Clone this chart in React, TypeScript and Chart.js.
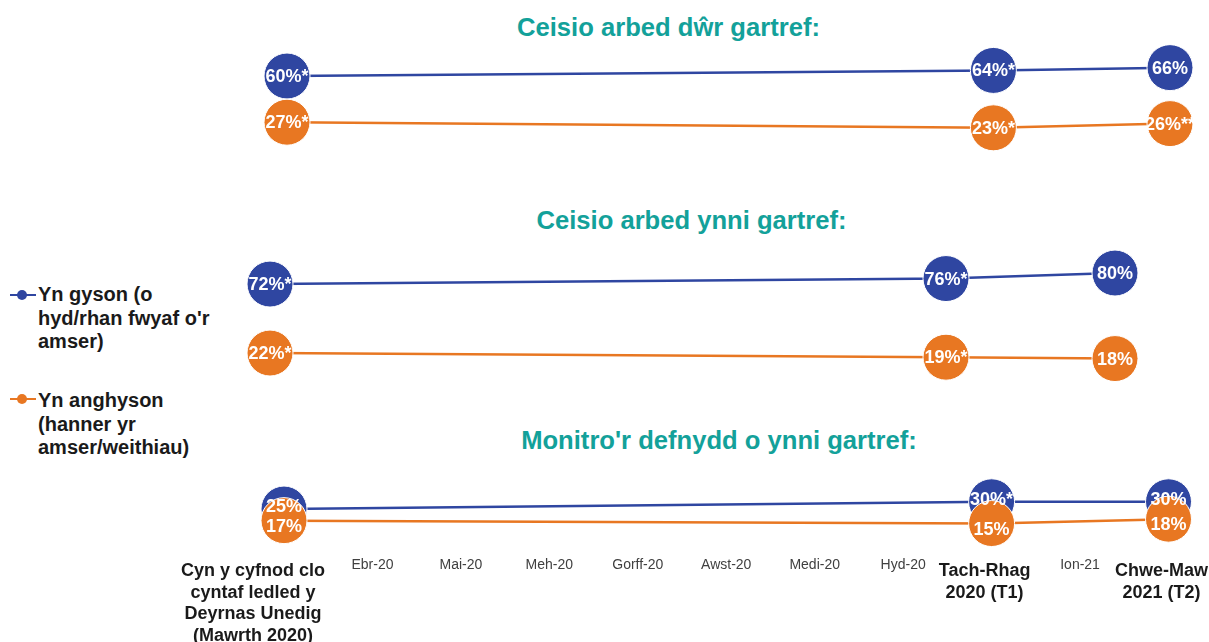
import React, { useEffect, useRef } from "react";
import { Chart, registerables } from "chart.js";

Chart.register(...registerables);

const FONT = "'Liberation Sans', Arial, Helvetica, sans-serif";
const BLUE = "#2F46A1";
const ORANGE = "#E87722";
const TEAL = "#13A19A";

// ---------- DATA ----------
const categories: (string | string[])[] = [
  ["Cyn y cyfnod clo", "cyntaf ledled y", "Deyrnas Unedig", "(Mawrth 2020)"],
  "Ebr-20",
  "Mai-20",
  "Meh-20",
  "Gorff-20",
  "Awst-20",
  "Medi-20",
  "Hyd-20",
  ["Tach-Rhag", "2020 (T1)"],
  "Ion-21",
  ["Chwe-Maw", "2021 (T2)"],
];

const seriesConsistent = ["Yn gyson (o", "hyd/rhan fwyaf o'r", "amser)"];
const seriesInconsistent = ["Yn anghyson", "(hanner yr", "amser/weithiau)"];

const waterTitle = "Ceisio arbed dŵr gartref:";
const waterConsistent = [60, null, null, null, null, null, null, null, 64, null, 66];
const waterConsistentLabels = ["60%*", null, null, null, null, null, null, null, "64%*", null, "66%"];
const waterInconsistent = [27, null, null, null, null, null, null, null, 23, null, 26];
const waterInconsistentLabels = ["27%*", null, null, null, null, null, null, null, "23%*", null, "26%**"];

const energyTitle = "Ceisio arbed ynni gartref:";
const energyConsistent = [72, null, null, null, null, null, null, null, 76, null, 80];
const energyConsistentLabels = ["72%*", null, null, null, null, null, null, null, "76%*", null, "80%"];
const energyInconsistent = [22, null, null, null, null, null, null, null, 19, null, 18];
const energyInconsistentLabels = ["22%*", null, null, null, null, null, null, null, "19%*", null, "18%"];

const monitorTitle = "Monitro'r defnydd o ynni gartref:";
const monitorConsistent = [25, null, null, null, null, null, null, null, 30, null, 30];
const monitorConsistentLabels = ["25%", null, null, null, null, null, null, null, "30%*", null, "30%"];
const monitorInconsistent = [17, null, null, null, null, null, null, null, 15, null, 18];
const monitorInconsistentLabels = ["17%", null, null, null, null, null, null, null, "15%", null, "18%"];

// ---------- PLUGINS ----------
const pointLabelPlugin = {
  id: "pointLabels",
  afterDatasetsDraw(chart: any) {
    const ctx = chart.ctx;
    ctx.save();
    ctx.font = `bold 18px ${FONT}`;
    ctx.fillStyle = "#ffffff";
    ctx.textAlign = "center";
    ctx.textBaseline = "middle";
    chart.data.datasets.forEach((ds: any, i: number) => {
      const meta = chart.getDatasetMeta(i);
      meta.data.forEach((pt: any, j: number) => {
        const label = ds.pointLabels?.[j];
        if (!label || ds.data[j] == null) return;
        ctx.fillText(label, pt.x, pt.y + 1 + (ds.labelDy || 0));
      });
    });
    ctx.restore();
  },
};

const makeAxisPlugin = (canvasTop: number) => ({
  id: "axisLabels",
  afterDraw(chart: any) {
    const ctx = chart.ctx;
    const scale = chart.scales.x;
    ctx.save();
    ctx.textAlign = "center";
    (chart.data.labels as (string | string[])[]).forEach((label, i) => {
      const x = scale.getPixelForValue(i);
      if (Array.isArray(label)) {
        const dx = i === 0 ? -31 : -7;
        ctx.font = `bold 18px ${FONT}`;
        ctx.fillStyle = "#1a1a1a";
        ctx.textBaseline = "alphabetic";
        label.forEach((line, k) => {
          ctx.fillText(line, x + dx, 576 - canvasTop + k * 21.5);
        });
      } else {
        ctx.font = `14px ${FONT}`;
        ctx.fillStyle = "#404040";
        ctx.textBaseline = "alphabetic";
        ctx.fillText(label, x, 569 - canvasTop);
      }
    });
    ctx.restore();
  },
});

// ---------- PANEL ----------
type PanelCfg = {
  top: number;
  height: number;
  padding: { left: number; right: number; top: number; bottom: number };
  yMax: number;
  consistent: (number | null)[];
  consistentLabels: (string | null)[];
  inconsistent: (number | null)[];
  inconsistentLabels: (string | null)[];
  consistentDy?: number;
  inconsistentDy?: number;
  axis?: boolean;
};

function Panel({ cfg }: { cfg: PanelCfg }) {
  const ref = useRef<HTMLCanvasElement>(null);
  useEffect(() => {
    const common = {
      borderWidth: 2.5,
      pointRadius: 23,
      pointHoverRadius: 23,
      pointBorderColor: "#ffffff",
      pointBorderWidth: 1,
      spanGaps: true,
      clip: false,
      tension: 0,
    };
    const plugins: any[] = [pointLabelPlugin];
    if (cfg.axis) plugins.push(makeAxisPlugin(cfg.top));
    const chart = new Chart(ref.current!, {
      type: "line",
      data: {
        labels: categories as any,
        datasets: [
          {
            ...common,
            label: seriesConsistent.join(" "),
            data: cfg.consistent,
            borderColor: BLUE,
            backgroundColor: BLUE,
            pointBackgroundColor: BLUE,
            order: 1,
            pointLabels: cfg.consistentLabels,
            labelDy: cfg.consistentDy || 0,
          } as any,
          {
            ...common,
            label: seriesInconsistent.join(" "),
            data: cfg.inconsistent,
            borderColor: ORANGE,
            backgroundColor: ORANGE,
            pointBackgroundColor: ORANGE,
            order: 0,
            pointLabels: cfg.inconsistentLabels,
            labelDy: cfg.inconsistentDy || 0,
          } as any,
        ],
      },
      options: {
        animation: false,
        responsive: false,
        maintainAspectRatio: false,
        events: [],
        layout: { padding: cfg.padding, autoPadding: false },
        plugins: {
          legend: { display: false },
          title: { display: false },
          tooltip: { enabled: false },
        },
        scales: {
          x: { display: false, offset: false },
          y: { display: false, min: 0, max: cfg.yMax },
        },
      } as any,
      plugins,
    });
    return () => chart.destroy();
  }, []);
  return (
    <canvas
      ref={ref}
      width={1209}
      height={cfg.height}
      style={{ position: "absolute", left: 0, top: cfg.top, width: 1209, height: cfg.height }}
    />
  );
}

const titleStyle = (centerX: number, top: number): React.CSSProperties => ({
  position: "absolute",
  left: centerX,
  top,
  transform: "translateX(-50%)",
  whiteSpace: "nowrap",
  font: `bold 25.6px ${FONT}`,
  lineHeight: "30px",
  color: TEAL,
});

function LegendItem({ top, markerY, color, lines }: { top: number; markerY: number; color: string; lines: string[] }) {
  return (
    <>
      <div style={{ position: "absolute", left: 10, top: markerY - 1, width: 26, height: 2, background: color }} />
      <div
        style={{
          position: "absolute",
          left: 17,
          top: markerY - 5,
          width: 10,
          height: 10,
          borderRadius: "50%",
          background: color,
        }}
      />
      <div
        style={{
          position: "absolute",
          left: 38,
          top,
          font: `bold 20px ${FONT}`,
          lineHeight: "23.5px",
          color: "#1a1a1a",
          whiteSpace: "nowrap",
        }}
      >
        {lines.map((l, i) => (
          <div key={i}>{l}</div>
        ))}
      </div>
    </>
  );
}

export default function App() {
  const panels: PanelCfg[] = [
    {
      top: 40,
      height: 135,
      padding: { left: 287, right: 39, top: 10, bottom: 15 },
      yMax: 78.6,
      consistent: waterConsistent,
      consistentLabels: waterConsistentLabels,
      inconsistent: waterInconsistent,
      inconsistentLabels: waterInconsistentLabels,
    },
    {
      top: 240,
      height: 160,
      padding: { left: 270, right: 94, top: 10, bottom: 16.6 },
      yMax: 96.7,
      consistent: energyConsistent,
      consistentLabels: energyConsistentLabels,
      inconsistent: energyInconsistent,
      inconsistentLabels: energyInconsistentLabels,
    },
    {
      top: 460,
      height: 182,
      padding: { left: 284, right: 40.5, top: 10, bottom: 96.7 },
      yMax: 51.9,
      consistent: monitorConsistent,
      consistentLabels: monitorConsistentLabels,
      inconsistent: monitorInconsistent,
      inconsistentLabels: monitorInconsistentLabels,
      consistentDy: -3,
      inconsistentDy: 5,
      axis: true,
    },
  ];
  return (
    <div
      style={{
        position: "absolute",
        left: 0,
        top: 0,
        width: 1209,
        height: 642,
        background: "#ffffff",
        overflow: "hidden",
      }}
    >
      <div style={titleStyle(668.5, 12)}>{waterTitle}</div>
      <div style={titleStyle(691.5, 205)}>{energyTitle}</div>
      <div style={titleStyle(719, 425)}>{monitorTitle}</div>
      <LegendItem top={283} markerY={295} color={BLUE} lines={seriesConsistent} />
      <LegendItem top={389.3} markerY={398.5} color={ORANGE} lines={seriesInconsistent} />
      {panels.map((p, i) => (
        <Panel key={i} cfg={p} />
      ))}
    </div>
  );
}
